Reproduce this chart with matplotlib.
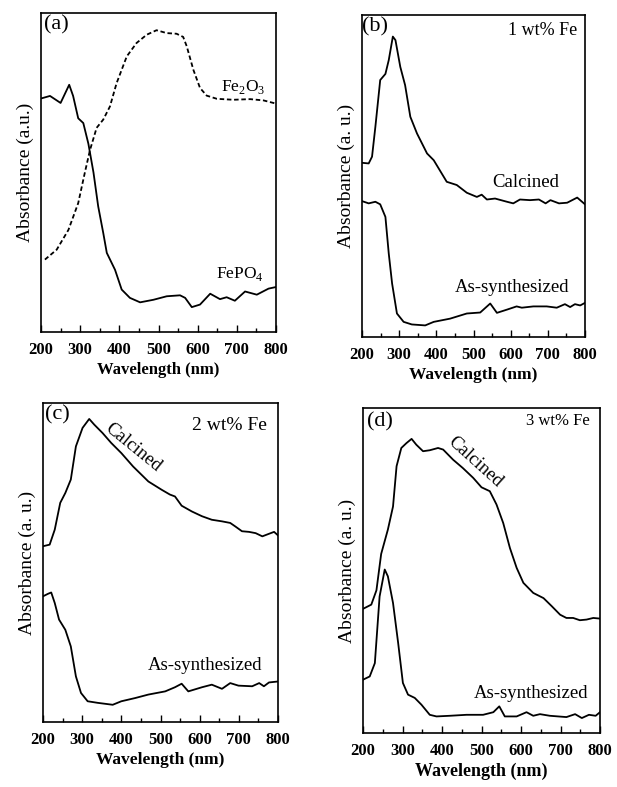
import matplotlib.pyplot as plt
from matplotlib.ticker import MultipleLocator
from matplotlib.transforms import offset_copy

plt.rcParams['font.family'] = ['Liberation Serif', 'DejaVu Serif']
plt.rcParams['mathtext.fontset'] = 'custom'
plt.rcParams['mathtext.rm'] = 'Liberation Serif'

# (a) reference compounds
a_fepo4_x = [200, 223, 250, 272, 282, 295, 308, 321, 334, 346, 359, 368, 389, 406, 427, 453, 487, 521,
             555, 568, 585, 606, 632, 657, 674, 695, 721, 751, 781, 800]
a_fepo4_y = [73.2, 74, 71.8, 77.5, 74, 67, 65.5, 59, 50, 39.4, 31, 24.8, 19.5, 13.3, 10.7, 9.3, 10.1, 11.2,
             11.5, 10.7, 7.8, 8.6, 12, 10.3, 10.9, 9.8, 12.7, 11.7, 13.6, 14.1]
a_fe2o3_x = [210, 240, 270, 295, 312, 325, 342, 359, 376, 393, 419, 444, 470, 495, 521, 546, 563, 572,
             589, 606, 623, 649, 691, 734, 768, 800]
a_fe2o3_y = [22.7, 25.8, 32, 40.4, 50, 57, 64, 66.6, 70.7, 78, 86.4, 90.6, 93.2, 94.6, 93.7, 93.5, 92.5, 89.6,
             82.2, 76.5, 74.1, 73.1, 72.8, 73, 72.6, 71.6]

# (b) 1 wt% Fe
b_cal_x = [200, 218, 227, 236, 249, 263, 272, 283, 290, 303, 316, 330, 348, 375, 393, 428, 455, 482, 509,
           522, 536, 558, 590, 607, 625, 652, 676, 694, 707, 730, 752, 779, 800]
b_cal_y = [54.1, 53.9, 56, 65.3, 79.8, 81.7, 86, 93.3, 92.2, 83.9, 78.2, 68.4, 63.2, 57, 54.9, 48.2, 47.2, 44.8,
           43.5, 44.2, 42.7, 43, 42, 41.5, 42.7, 42.5, 42.7, 41.5, 42.5, 41.5, 41.7, 43.3, 41.2]
b_as_x = [200, 218, 236, 249, 263, 272, 281, 294, 312, 334, 370, 393, 437, 482, 518, 545, 563, 590, 616,
          630, 661, 697, 724, 746, 760, 773, 787, 800]
b_as_y = [42.2, 41.5, 42, 41.2, 37.3, 25.9, 16.6, 7.3, 4.7, 3.9, 3.6, 4.7, 5.7, 7.3, 7.6, 10.4, 7.5, 8.5, 9.5,
          9.1, 9.5, 9.5, 9.1, 10.2, 9.3, 10.2, 9.8, 10.6]

# (c) 2 wt% Fe
c_cal_x = [200, 217, 230, 244, 257, 271, 284, 301, 318, 331, 352, 374, 400, 430, 469, 503, 524, 537, 554,
           580, 606, 631, 657, 678, 691, 708, 726, 743, 760, 777, 790, 800]
c_cal_y = [55.1, 55.6, 60.3, 68.7, 71.8, 76, 86.4, 92.2, 95, 93.2, 90.6, 87.5, 84.3, 80.1, 75.4, 72.8, 71.3,
           70.7, 67.8, 66, 64.5, 63.4, 62.9, 62.4, 61.3, 59.8, 59.6, 59.2, 58.2, 59, 59.6, 58.5]
c_as_x = [200, 213, 221, 230, 241, 257, 271, 284, 297, 314, 340, 378, 400, 435, 469, 512, 537, 554, 571,
          606, 631, 657, 678, 699, 734, 752, 764, 777, 800]
c_as_y = [39.4, 40.2, 40.6, 37.3, 32.1, 28.9, 23.7, 14.3, 9.1, 6.5, 6, 5.4, 6.5, 7.5, 8.6, 9.6, 10.9, 12,
          9.6, 10.9, 11.7, 10.4, 12.2, 11.4, 11.2, 12.2, 11.2, 12.4, 12.7]

# (d) 3 wt% Fe
d_cal_x = [200, 221, 234, 246, 263, 276, 285, 297, 310, 323, 335, 352, 369, 390, 403, 428, 453, 479, 500,
           521, 538, 555, 572, 589, 606, 631, 657, 678, 699, 715, 732, 749, 766, 783, 800]
d_cal_y = [38.2, 39.5, 43.9, 55.1, 62.6, 69.7, 82.1, 87.7, 89.2, 90.5, 88.7, 86.7, 87, 87.7, 87.2, 84.1, 81.5,
           78.5, 75.6, 74.4, 70.3, 64.6, 56.9, 50.8, 46.2, 43.1, 41.5, 39, 36.4, 35.4, 35.4, 34.7, 34.9, 35.4, 35.2]
d_as_x = [200, 217, 230, 242, 255, 263, 276, 289, 301, 314, 331, 348, 369, 386, 420, 462, 504, 530, 545,
          559, 589, 614, 631, 648, 673, 715, 737, 754, 772, 789, 800]
d_as_y = [16.4, 17.4, 21.5, 42, 50.3, 48.2, 40, 27.7, 15.4, 11.8, 10.8, 8.7, 5.6, 5.1, 5.3, 5.6, 5.6, 6.4, 8.2,
          5.1, 5.1, 6.4, 5.3, 5.8, 5.3, 4.9, 5.8, 4.6, 5.6, 5.3, 6.4]

W, H = 617, 787
fig = plt.figure(figsize=(W / 100, H / 100), dpi=100)


def panel(x0, y0, x1, y1, xlab_size=12):
    # pixel box -> axes in figure fractions
    ax = fig.add_axes([x0 / W, 1 - y1 / H, (x1 - x0) / W, (y1 - y0) / H])
    ax.set_xlim(200, 800)
    ax.set_ylim(0, 100)
    ax.xaxis.set_major_locator(MultipleLocator(100))
    ax.xaxis.set_minor_locator(MultipleLocator(50))
    ax.tick_params(axis='x', which='major', direction='in', length=5, width=1, labelsize=12, pad=7)
    ax.tick_params(axis='x', which='minor', direction='in', length=3, width=1)
    ax.set_yticks([])
    for lab in ax.get_xticklabels():
        lab.set_fontweight('bold')
    for s in ax.spines.values():
        s.set_linewidth(1.2)
    ax.set_xlabel('Wavelength (nm)', fontsize=xlab_size, fontweight='bold', labelpad=3)
    return ax


def corner(ax, s, dx, dy, size, right=False):
    # text placed by pixel offset from the top-left (or top-right) corner of the axes
    tr = offset_copy(ax.transAxes, fig=fig, x=-dx if right else dx, y=-dy, units='dots')
    ax.text(1 if right else 0, 1, s, transform=tr, fontsize=size,
            ha='right' if right else 'left', va='center')


lw = 1.3
ax = panel(41, 13, 276, 332)
ax.plot(a_fepo4_x, a_fepo4_y, color='black', lw=lw)
ax.plot(a_fe2o3_x, a_fe2o3_y, color='black', lw=lw, ls=(0, (2.5, 1.5)))
ax.set_ylabel('Absorbance (a.u.)', fontsize=14, labelpad=5)
corner(ax, '(a)', 3, 12, 16)
ax.text(716, 75.5, r'Fe$_2$O$_3$', fontsize=12.5, ha='center', va='baseline')
ax.text(708, 17, r'FePO$_4$', fontsize=12.5, ha='center', va='baseline')

ax = panel(362, 15, 585, 337, xlab_size=12.5)
ax.plot(b_cal_x, b_cal_y, color='black', lw=lw)
ax.plot(b_as_x, b_as_y, color='black', lw=lw)
ax.set_ylabel('Absorbance (a. u.)', fontsize=14, labelpad=5)
corner(ax, '(b)', 0, 12, 16)
corner(ax, '1 wt% Fe', 8, 16, 13, right=True)
ax.text(640, 46.6, 'Calcined', fontsize=13.5, ha='center', va='baseline')
ax.text(605, 14, 'As-synthesized', fontsize=13.5, ha='center', va='baseline')

ax = panel(43, 403, 278, 722, xlab_size=12.5)
ax.plot(c_cal_x, c_cal_y, color='black', lw=lw)
ax.plot(c_as_x, c_as_y, color='black', lw=lw)
ax.set_ylabel('Absorbance (a. u.)', fontsize=14, labelpad=5)
corner(ax, '(c)', 2, 12, 16)
corner(ax, '2 wt% Fe', 11, 23, 14, right=True)
ax.text(430, 86, 'Calcined', fontsize=13.5, ha='center', va='center', rotation=-39)
ax.text(614, 16.4, 'As-synthesized', fontsize=13.5, ha='center', va='baseline')

ax = panel(363, 408, 600, 733, xlab_size=13)
ax.plot(d_cal_x, d_cal_y, color='black', lw=lw)
ax.plot(d_as_x, d_as_y, color='black', lw=lw)
ax.set_ylabel('Absorbance (a. u.)', fontsize=14, labelpad=5)
corner(ax, '(d)', 4, 14, 16)
corner(ax, '3 wt% Fe', 10, 13, 12, right=True)
ax.text(483, 83.3, 'Calcined', fontsize=13.5, ha='center', va='center', rotation=-42)
ax.text(625, 10.8, 'As-synthesized', fontsize=13.5, ha='center', va='baseline')

fig.savefig('out.png', dpi=100)
